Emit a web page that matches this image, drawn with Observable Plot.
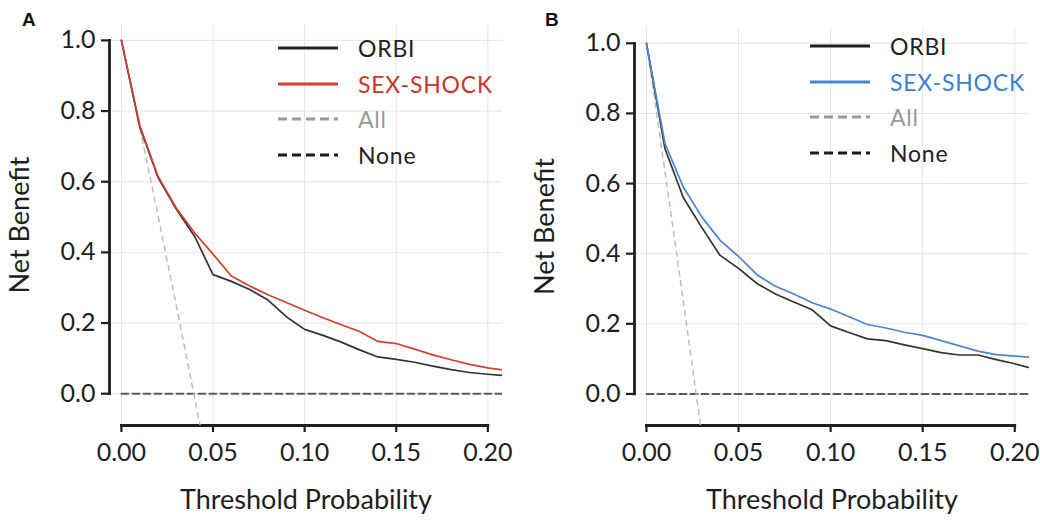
<!DOCTYPE html>
<html>
<head>
<meta charset="utf-8">
<script src="https://cdn.jsdelivr.net/npm/d3@7"></script>
<script src="https://cdn.jsdelivr.net/npm/@observablehq/plot@0.6"></script>
<style>
  html, body { margin: 0; padding: 0; background: #fff; }
  #wrap { position: relative; width: 1040px; height: 526px; display: flex; font-family: Lato, "Open Sans", sans-serif; }
  .panel { position: relative; width: 520px; height: 526px; }
  .tag { position: absolute; font-family: "Liberation Sans", Arial, sans-serif; font-weight: bold; font-size: 19px; color: #111; }
  .legend { position: absolute; }
  .row { position: absolute; left: 0; height: 30px; display: flex; align-items: center; white-space: nowrap; }
  .row span { font-size: 23px; letter-spacing: 0.8px; margin-left: 20px; }
</style>
</head>
<body>
<div id="wrap"></div>
<script>
// ---------- data ----------
const thresholds = [0, 0.01, 0.02, 0.03, 0.04, 0.05, 0.06, 0.07, 0.08, 0.09, 0.10,
                    0.11, 0.12, 0.13, 0.14, 0.15, 0.16, 0.17, 0.18, 0.19, 0.20, 0.21];

// Panel A
const orbiA = [1.0, 0.755, 0.612, 0.522, 0.445, 0.337, 0.318, 0.295, 0.265, 0.218, 0.182,
               0.165, 0.146, 0.124, 0.104, 0.097, 0.089, 0.078, 0.068, 0.060, 0.055, 0.051];
const sexA  = [1.0, 0.760, 0.615, 0.525, 0.455, 0.395, 0.333, 0.305, 0.280, 0.258, 0.236,
               0.215, 0.195, 0.176, 0.148, 0.142, 0.126, 0.110, 0.096, 0.083, 0.073, 0.066];
const allThresholdsA = [0, 0.01, 0.02, 0.03, 0.04, 0.05];
const allA  = [1.0, 0.754, 0.504, 0.249, -0.013, -0.27];

// Panel B
const orbiB = [1.0, 0.700, 0.560, 0.475, 0.395, 0.358, 0.315, 0.285, 0.262, 0.240, 0.194,
               0.175, 0.157, 0.152, 0.140, 0.129, 0.118, 0.111, 0.111, 0.098, 0.086, 0.072];
const sexB  = [1.0, 0.715, 0.590, 0.505, 0.438, 0.392, 0.340, 0.307, 0.285, 0.260, 0.242,
               0.220, 0.198, 0.188, 0.176, 0.167, 0.152, 0.137, 0.122, 0.112, 0.108, 0.104];
const allThresholdsB = [0, 0.01, 0.02, 0.03, 0.04];
const allB  = [1.0, 0.636, 0.265, -0.115, -0.50];

const noneBenefit = 0;

const xTicks = [0, 0.05, 0.10, 0.15, 0.20];
const yTicks = [0, 0.2, 0.4, 0.6, 0.8, 1.0];
const legendLabels = ["ORBI", "SEX-SHOCK", "All", "None"];
const panelTags = ["A", "B"];

// ---------- styles ----------
const xDomain = [-0.0065, 0.208];
const yDomain = [-0.09, 1.045];
const ink = "#1e1e1e";
const orbiColor = "#333333";
const redColor = "#d2402f";
const blueColor = "#4a86d0";

function panel(cfg) {
  const orbi = thresholds.map((t, i) => ({t, v: cfg.orbi[i]}));
  const sex = thresholds.map((t, i) => ({t, v: cfg.sex[i]}));
  const all = cfg.allT.map((t, i) => ({t, v: cfg.all[i]}));
  // axis lines span the tick range, drawn at the frame edges
  const yAxisLine = [yTicks[0], yTicks[yTicks.length - 1]].map(v => ({t: xDomain[0], v}));
  const xAxisLine = [xTicks[0], xTicks[xTicks.length - 1]].map(t => ({t, v: yDomain[0]}));
  const noneLine = [thresholds[0], thresholds[thresholds.length - 1]].map(t => ({t, v: noneBenefit}));
  return Plot.plot({
    width: 520, height: 526,
    marginLeft: cfg.ml, marginRight: cfg.mr, marginTop: cfg.mt, marginBottom: 526 - 425,
    x: {domain: xDomain},
    y: {domain: yDomain},
    style: {fontFamily: 'Lato, "Open Sans", sans-serif', color: ink, background: "#fff"},
    marks: [
      Plot.gridX(xTicks, {stroke: "#e4e4e4", strokeOpacity: 1, strokeWidth: 1}),
      Plot.gridY(yTicks, {stroke: "#e4e4e4", strokeOpacity: 1, strokeWidth: 1}),
      Plot.axisX(xTicks, {tickFormat: d3.format(".2f"), tickSize: 7, tickPadding: 11, strokeWidth: 2.2,
        fontSize: 25, label: null}),
      Plot.axisX({label: "Threshold Probability", labelAnchor: "center", labelArrow: "none", labelOffset: 83,
        fontSize: 27, ticks: [], tickSize: 0}),
      Plot.axisY(yTicks, {tickFormat: d3.format(".1f"), tickSize: 8, tickPadding: 6, strokeWidth: 2.2,
        fontSize: 25, label: null}),
      Plot.axisY({label: "Net Benefit", labelAnchor: "center", labelArrow: "none", labelOffset: 100,
        fontSize: 27, ticks: [], tickSize: 0}),
      Plot.line(yAxisLine, {x: "t", y: "v", stroke: ink, strokeWidth: 2.8, strokeLinecap: "square"}),
      Plot.line(xAxisLine, {x: "t", y: "v", stroke: ink, strokeWidth: 2.8, strokeLinecap: "square"}),
      Plot.line(noneLine, {x: "t", y: "v", stroke: "#5a5a5a", strokeWidth: 2, strokeDasharray: "7,4", clip: true}),
      Plot.line(all, {x: "t", y: "v", stroke: "#bdbdbd", strokeWidth: 1.5, strokeDasharray: "5,5", clip: true}),
      Plot.line(orbi, {x: "t", y: "v", stroke: orbiColor, strokeWidth: 1.7, clip: true}),
      Plot.line(sex, {x: "t", y: "v", stroke: cfg.color, strokeWidth: 1.7, clip: true})
    ]
  });
}

function legend(cfg) {
  const styles = [
    {stroke: "#222", dash: null, text: "#222"},
    {stroke: cfg.color, dash: null, text: cfg.textColor},
    {stroke: "#9a9a9a", dash: "9,5", text: "#999"},
    {stroke: "#1a1a1a", dash: "9,5", text: "#222"}
  ];
  const div = document.createElement("div");
  div.className = "legend";
  div.style.left = cfg.lx + "px";
  div.style.top = cfg.ly + "px";
  legendLabels.forEach((lab, i) => {
    const s = styles[i];
    const row = document.createElement("div");
    row.className = "row";
    row.style.top = (i * 35.5) + "px";
    row.innerHTML = `<svg width="60" height="6"><line x1="0" x2="60" y1="3" y2="3" stroke="${s.stroke}" stroke-width="3" ${s.dash ? `stroke-dasharray="${s.dash}"` : ""}/></svg><span style="color:${s.text}">${lab}</span>`;
    div.appendChild(row);
  });
  return div;
}

const cfgs = [
  {orbi: orbiA, sex: sexA, allT: allThresholdsA, all: allA, color: redColor, textColor: "#c8382a",
   ml: 109, mr: 18, mt: 24, lx: 278, ly: 33, tx: 22, ty: 9},
  {orbi: orbiB, sex: sexB, allT: allThresholdsB, all: allB, color: blueColor, textColor: "#3d7fcf",
   ml: 114, mr: 11, mt: 27, lx: 290, ly: 31, tx: 25, ty: 9}
];

const wrap = document.getElementById("wrap");
cfgs.forEach((cfg, k) => {
  const p = document.createElement("div");
  p.className = "panel";
  p.appendChild(panel(cfg));
  p.appendChild(legend(cfg));
  const tag = document.createElement("div");
  tag.className = "tag";
  tag.textContent = panelTags[k];
  tag.style.left = cfg.tx + "px";
  tag.style.top = cfg.ty + "px";
  p.appendChild(tag);
  wrap.appendChild(p);
});
</script>
</body>
</html>
